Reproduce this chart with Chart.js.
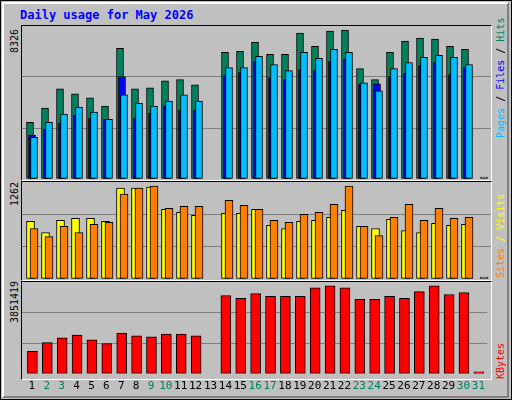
<!DOCTYPE html>
<html>
<head>
<meta charset="utf-8">
<script src="https://cdn.jsdelivr.net/npm/chart.js@4"></script>
<style>
  body { margin: 0; background: #fff; }
  #frame { position: relative; width: 510px; height: 398px; border: 1px solid #000; background: #c0c0c0; overflow: hidden;
           font-family: 'DejaVu Sans Mono', monospace; }
  #inner { position: absolute; left: 1px; top: 1px; width: 503px; height: 392px;
           border-top: 2px solid #fff; border-left: 2px solid #fff; border-right: 2px solid #808080; border-bottom: 2px solid #808080; }
  .panel { position: absolute; left: 20px; width: 469px; border-top: 1px solid #000; border-left: 1px solid #000;
           border-right: 1px solid #fff; border-bottom: 1px solid #fff; }
  canvas { position: absolute; }
  .title { position: absolute; left: 19px; top: 7px; color: #0000ff; font-weight: bold; font-size: 12px; }
  .vlab { position: absolute; transform-origin: left top; transform: rotate(-90deg); font-size: 10px; line-height: 10px; white-space: nowrap; }
</style>
</head>
<body>
<div id="frame">
  <div class="title">Daily usage for May 2026</div>
  <div id="inner"></div>
  <div class="panel" style="top:24px;height:154px"></div>
  <div class="panel" style="top:180px;height:98px"></div>
  <div class="panel" style="top:280px;height:97px"></div>
  <canvas id="c1" style="left:21px;top:25px"></canvas>
  <canvas id="c2" style="left:21px;top:181px"></canvas>
  <canvas id="c3" style="left:21px;top:281px"></canvas>
  <div class="vlab" style="left:9px;top:52px">8326</div>
  <div class="vlab" style="left:9px;top:205px">1262</div>
  <div class="vlab" style="left:9px;top:322px">3851419</div>
  <div class="vlab" style="left:495px;top:137px"><span style="color:#00bfff">Pages</span><span> / </span><span style="color:#0000ff">Files</span><span> / </span><span style="color:#00805c">Hits</span></div>
  <div class="vlab" style="left:495px;top:277px"><span style="color:#ff8000">Sites</span><span style="color:#ffff00"> / Visits</span></div>
  <div class="vlab" style="left:495px;top:378px;color:#ff0000">KBytes</div>
</div>
<script>
const days = Array.from({ length: 31 }, (_, i) => i + 1);
const weekendDays = [2, 3, 9, 10, 16, 17, 23, 24, 30, 31];

const hits  = [3088,3860,4907,4632,4411,3970,7113,4907,4963,5349,5404,5128,null,6893,6948,7444,6782,6782,7940,7223,8050,8106,6010,5404,6893,7499,7665,7610,7223,7058,0];
const files = [2261,3088,3529,3915,3639,3253,4577,4136,3970,4246,4577,4246,null,6065,6065,6672,6231,5900,6893,6562,7058,6893,5238,4797,6010,6341,6617,6727,6617,6231,0];
const pages = [2371,2702,3033,3474,3308,3253,5569,3308,3584,3970,3750,3750,null,5624,5790,6396,5514,5404,5955,5900,6396,6507,5183,5183,5569,5735,6176,6341,5680,6065,0];
const sites  = [749,605,762,789,789,749,1183,1183,1196,907,868,828,null,854,854,907,697,657,749,762,802,894,684,657,776,631,605,723,697,710,0];
const visits = [657,552,684,605,710,736,1104,1183,1209,920,947,947,null,1025,960,907,762,736,841,868,973,1209,684,565,802,973,762,920,789,802,0];
const kbytes = [942690,1306300,1508300,1629500,1427500,1265900,1710300,1589100,1548700,1669900,1669900,1589100,null,
  3285900,3164700,3366800,3245500,3245500,3245500,3609200,3690000,3609200,3124300,3124300,3245500,3164700,3447600,3690000,3326300,3407100,0];

const maxHits = 8326, maxVisits = 1262, maxKb = 3851419;

function pts(arr, off) { return arr.map((v, i) => ({ x: days[i] + off, y: v })); }
function ds(arr, off, color, width, order, extra) {
  return Object.assign({ data: pts(arr, off), backgroundColor: color, borderColor: '#000', borderWidth: 1,
    borderSkipped: false, barThickness: width, grouped: false, order: order }, extra || {});
}
function makeChart(id, w, h, datasets, max, showX) {
  const el = document.getElementById(id);
  el.width = w; el.height = h;
  el.style.width = w + 'px'; el.style.height = h + 'px';
  return new Chart(el, {
    type: 'bar',
    data: { datasets },
    options: {
      responsive: false, animation: false, events: [],
      layout: { padding: 0 },
      plugins: { legend: { display: false }, tooltip: { enabled: false } },
      scales: {
        x: { type: 'linear', min: 1 - 10 / 15, max: 1 - 10 / 15 + 469 / 15, offset: false,
             display: showX, border: { display: false }, grid: { display: false, drawTicks: false },
             afterBuildTicks: s => { s.ticks = days.map(v => ({ value: v })); },
             ticks: { padding: 6, autoSkip: false, maxRotation: 0, minRotation: 0,
                      font: { family: 'DejaVu Sans Mono', size: 11 },
                      color: c => weekendDays.includes(c.tick.value) ? '#00805c' : '#000',
                      callback: v => String(v) } },
        y: { min: 0, max: max, display: true, border: { display: false },
             ticks: { display: false, stepSize: max / 3 },
             grid: { drawTicks: false, color: c => (c.index === 1 || c.index === 2) ? '#808080' : 'rgba(0,0,0,0)' } }
      }
    }
  });
}

makeChart('c1', 469, 153, [
  ds(hits, -0.133, '#00805c', 7, 3),
  ds(pages, 0, '#0000ff', 7, 2),
  ds(files, 0.133, '#00bfff', 7, 1, { minBarLength: 2 })
], maxHits, false);

makeChart('c2', 469, 97, [
  ds(sites, -0.1, '#ffff00', 8, 2),
  ds(visits, 0.133, '#ff8000', 8, 1, { minBarLength: 2 })
], maxVisits, false);

makeChart('c3', 469, 117, [
  ds(kbytes, 0.033, '#ff0000', 10, 1, { minBarLength: 2 })
], maxKb, true);
</script>
</body>
</html>
